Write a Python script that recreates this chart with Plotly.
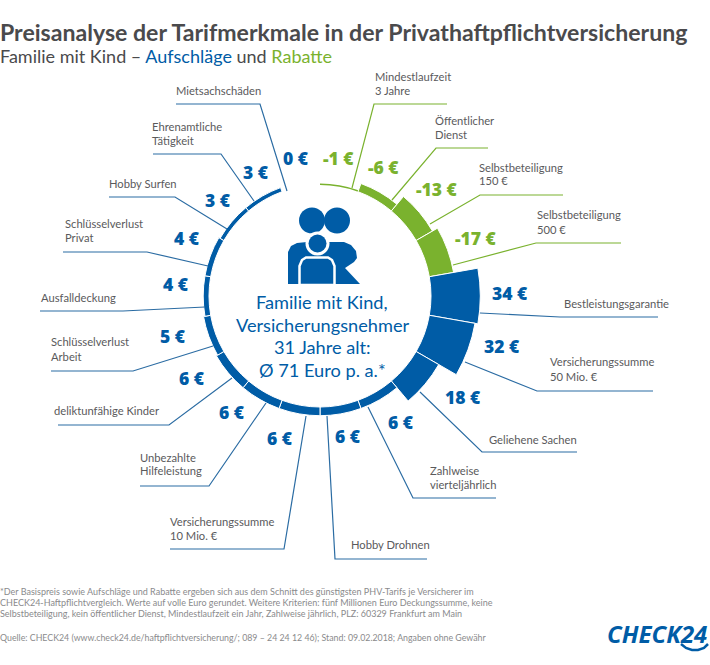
import plotly.graph_objects as go

# tariff features clockwise from 12 o'clock
features = [
    "Mindestlaufzeit<br>3 Jahre", "Öffentlicher<br>Dienst", "Selbstbeteiligung<br>150 €",
    "Selbstbeteiligung<br>500 €", "Bestleistungsgarantie", "Versicherungssumme<br>50 Mio. €",
    "Geliehene Sachen", "Zahlweise<br>vierteljährlich", "Hobby Drohnen",
    "Versicherungssumme<br>10 Mio. €", "Unbezahlte<br>Hilfeleistung", "deliktunfähige Kinder",
    "Schlüsselverlust<br>Arbeit", "Ausfalldeckung", "Schlüsselverlust<br>Privat",
    "Hobby Surfen", "Ehrenamtliche<br>Tätigkeit", "Mietsachschäden",
]
euro = [-1, -6, -13, -17, 34, 32, 18, 6, 6, 6, 6, 6, 5, 4, 4, 3, 3, 0]

title = "Preisanalyse der Tarifmerkmale in der Privathaftpflichtversicherung"
center_lines = ["Familie mit Kind,", "Versicherungsnehmer", "31 Jahre alt:", "Ø 71 Euro p. a.*"]
footnote = [
    "*Der Basispreis sowie Aufschläge und Rabatte ergeben sich aus dem Schnitt des günstigsten PHV-Tarifs je Versicherer im",
    "CHECK24-Haftpflichtvergleich. Werte auf volle Euro gerundet. Weitere Kriterien: fünf Millionen Euro Deckungssumme, keine",
    "Selbstbeteiligung, kein öffentlicher Dienst, Mindestlaufzeit ein Jahr, Zahlweise jährlich, PLZ: 60329 Frankfurt am Main",
]
source = "Quelle: CHECK24 (www.check24.de/haftpflichtversicherung/; 089 – 24 24 12 46); Stand: 09.02.2018; Angaben ohne Gewähr"

BLUE = "#005ca6"
GREEN = "#7ab22e"
GREY = "#5a5a5c"
W, H = 710, 665
CX, CY = 320, 296
PX_PER_EURO = 1.45
INNER = 111
OUTER = 200


def px(x):
    return x / W


def py(y):
    return 1 - y / H


# layout per feature: label x, label y, leader points, value label centre
placement = [
    (374, 76, [(352, 188), (374, 104), (447, 104)], (338, 158)),
    (434, 120, [(392, 200), (436, 148), (488, 148)], (384, 167)),
    (478, 167, [(430, 224), (480, 195), (563, 195)], (437, 189)),
    (536, 215, [(453, 265), (536, 243), (621, 243)], (476, 238)),
    (563, 303, [(480, 313), (560, 317), (658, 317)], (510, 293)),
    (549, 362, [(465, 362), (537, 391), (653, 391)], (502, 346)),
    (488, 439, [(420, 392), (482, 452), (577, 452)], (463, 397)),
    (429, 470, [(368, 407), (413, 498), (496, 498)], (401, 422)),
    (350, 544, [(327, 416), (335, 559), (427, 559)], (348, 436)),
    (169, 521, [(306, 416), (284, 549), (170, 549)], (280, 438)),
    (139, 457, [(266, 403), (209, 486), (140, 486)], (232, 412)),
    (53, 411, [(232, 378), (169, 425), (58, 425)], (192, 378)),
    (50, 342, [(213, 346), (133, 371), (51, 371)], (173, 336)),
    (40, 297, [(205, 307), (123, 311), (40, 311)], (176, 284)),
    (64, 223, [(208, 266), (147, 252), (63, 252)], (187, 238)),
    (108, 183, [(227, 229), (175, 197), (109, 197)], (218, 200)),
    (151, 126, [(254, 201), (221, 154), (153, 154)], (256, 172)),
    (175, 90, [(287, 191), (260, 104), (176, 104)], (296, 158)),
]

colors = [GREEN if v < 0 else BLUE for v in euro]
theta = [10 + 20 * i for i in range(len(euro))]

fig = go.Figure()
fig.add_trace(
    go.Barpolar(
        r=[abs(v) for v in euro],
        theta=theta,
        width=[20] * len(euro),
        base=INNER / PX_PER_EURO,
        marker=dict(
            color=colors,
            line=dict(color="white", width=[0 if abs(v) < 2 else 1 for v in euro]),
        ),
        hoverinfo="skip",
    )
)

annotations = []
shapes = []


def add_text(x, y, text, size, color, family="Lato", anchor="left", yanchor="middle", weight=None):
    annotations.append(
        dict(
            x=px(x), y=py(y), xref="paper", yref="paper", text=text, showarrow=False,
            xanchor=anchor, yanchor=yanchor, align=anchor, borderpad=0,
            font=dict(size=size, color=color, family=family, weight=weight),
        )
    )


for label, value, color, (tx, ty, leader, (vx, vy)) in zip(features, euro, colors, placement):
    path = "M " + " L ".join(f"{px(x)} {py(y)}" for x, y in leader)
    shapes.append(dict(type="path", xref="paper", yref="paper", path=path, line=dict(color=color if value < 0 else "#2b6ca3", width=1.2)))
    lines = label.split("<br>")
    for i, line in enumerate(lines):
        add_text(tx, ty + i * 14, line, 11.2, GREY)
    add_text(vx, vy, f"{value} €", 17.5, color, family="Open Sans", anchor="center", weight=800)

add_text(-1, 32, f"<b>{title}</b>", 23.1, "#4a4a4c", family="Lato", weight=900)
add_text(
    -1, 56,
    f'Familie mit Kind – <span style="color:{BLUE}">Aufschläge</span> und <span style="color:{GREEN}">Rabatte</span>',
    18, "#4a4a4c", family="Lato",
)

for i, line in enumerate(center_lines):
    add_text(322, 302 + i * 22.7, line, 18.2, BLUE, anchor="center")

for i, line in enumerate(footnote):
    add_text(-1, 591 + i * 11.3, line, 9, "#8a8a8c")
add_text(-1, 637, source, 8.8, "#8a8a8c")

add_text(657, 633, "<b><i>CHECK24</i></b>", 24, BLUE, family="Open Sans", anchor="center")


def circle(x, y, r, color):
    return dict(
        type="circle", xref="paper", yref="paper", x0=px(x - r), x1=px(x + r), y0=py(y + r), y1=py(y - r),
        fillcolor=color, line=dict(width=0),
    )


def outline(points, fill, line_color=None, line_width=0):
    path = "M " + " L ".join(f"{px(x)} {py(y)}" for x, y in points) + " Z"
    return dict(
        type="path", xref="paper", yref="paper", path=path, fillcolor=fill,
        line=dict(color=line_color or fill, width=line_width),
    )


# family icon in the middle of the ring
shapes += [
    circle(312, 220.5, 13, BLUE),
    circle(337, 220.5, 13, BLUE),
    outline(
        [(288, 284), (288, 252), (291, 246), (297, 243), (307, 242), (344, 242), (351, 245), (356, 251),
         (357, 258), (354, 262), (345, 268), (360, 284)],
        BLUE,
    ),
    circle(317.5, 243.5, 12, "white"),
    circle(317.5, 243.5, 9, BLUE),
    outline(
        [(299.5, 285), (299.5, 266), (302, 260), (306, 257.5), (328, 257.5), (332, 260), (334.5, 266), (334.5, 285)],
        BLUE, "white", 2.5,
    ),
    # smile below the logo
    dict(
        type="path", xref="paper", yref="paper",
        path="M " + " L ".join(
            f"{px(x)} {py(y)}"
            for x, y in [(681, 644), (686, 648), (692, 650), (698, 650), (704, 648), (708, 644)]
        ),
        line=dict(color=BLUE, width=2.5),
    ),
]

fig.update_layout(
    width=W,
    height=H,
    margin=dict(l=0, r=0, t=0, b=0),
    paper_bgcolor="white",
    showlegend=False,
    polar=dict(
        domain=dict(
            x=[px(CX - OUTER), px(CX + OUTER)],
            y=[py(CY + OUTER), py(CY - OUTER)],
        ),
        bgcolor="rgba(0,0,0,0)",
        radialaxis=dict(visible=False, range=[0, OUTER / PX_PER_EURO]),
        angularaxis=dict(visible=False, rotation=90, direction="clockwise"),
    ),
    shapes=shapes,
    annotations=annotations,
)

# drop the page's default body margin so the figure sits at the window corner
fig.write_html(
    "out.html",
    config={"displayModeBar": False},
    post_script="document.body.style.margin = '0';",
)
